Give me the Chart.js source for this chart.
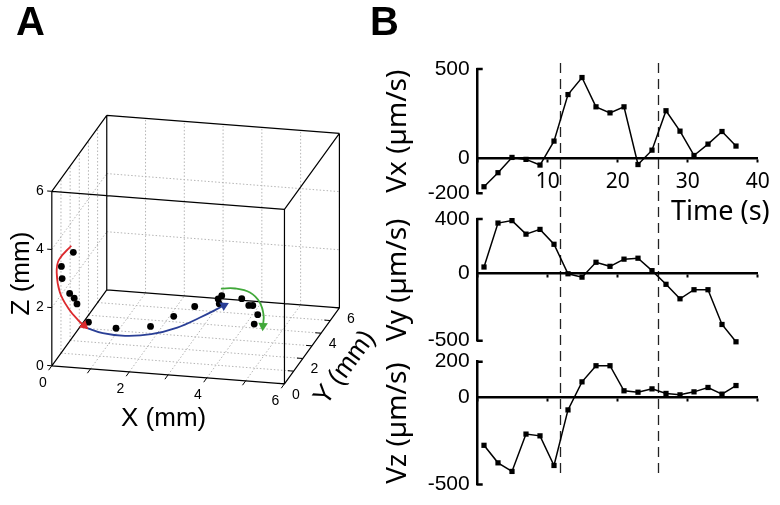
<!DOCTYPE html>
<html>
<head>
<meta charset="utf-8">
<script src="https://cdn.jsdelivr.net/npm/chart.js@4.4.1/dist/chart.umd.min.js"></script>
<style>
  html, body { margin: 0; padding: 0; background: #fff; }
  #fig { position: relative; width: 780px; height: 505px; overflow: hidden; }
  #fig canvas { position: absolute; top: 0; }
  .panel { position: absolute; top: 1px; font: bold 40px "Liberation Sans", Arial, sans-serif; line-height: 40px; color: #000; }
</style>
</head>
<body>
<div id="fig">
  <canvas id="chart3d" width="380" height="505" style="left:0"></canvas>
  <canvas id="chartVx" width="400" height="505" style="left:380px"></canvas>
  <canvas id="chartVy" width="400" height="505" style="left:380px"></canvas>
  <canvas id="chartVz" width="400" height="505" style="left:380px"></canvas>
  <div class="panel" style="left:16px">A</div>
  <div class="panel" style="left:370px">B</div>
</div>
<script>
// === DATA PANEL A (mm) ===
// trajectory points
const trajX = [0.2, 0.2, 0.2, 0.2, 0.2, 0.2, 0.38, 1.11, 1.92, 2.36, 2.75, 3.19, 3.27, 3.25, 3.76, 4.0, 4.1, 4.33, 4.36];
const trajY = [1.5, 0.2, 0.28, 1.1, 1.6, 1.9, 2.39, 2.31, 2.65, 3.32, 3.96, 4.66, 4.71, 4.52, 4.82, 4.57, 4.59, 4.15, 3.64];
const trajZ = [3.27, 3.35, 2.9, 2.03, 1.65, 1.32, 0.5, 0.4, 0.4, 0.5, 0.6, 0.6, 0.7, 0.5, 0.6, 0.5, 0.5, 0.4, 0.3];

// curved arrows over the trajectory
const redArrowX = [0.1, 0.1, 0.1, 0.1, 0.1, 0.1, 0.1];
const redArrowY = [1.70, 0.35, 0.11, 0.46, 1.41, 2.47, 3.11];
const redArrowZ = [3.40, 3.50, 3.16, 2.33, 1.36, 0.50, 0.04];
const blueArrowX = [0.21, 0.72, 1.31, 1.92, 2.44, 2.81, 3.19];
const blueArrowY = [2.84, 2.52, 2.45, 2.72, 3.37, 4.23, 5.29];
const blueArrowZ = [0.1, 0.1, 0.1, 0.1, 0.1, 0.1, 0.1];
const greenArrowX = [3.18, 3.55, 3.93, 4.18, 4.40, 4.50];
const greenArrowY = [5.0, 5.0, 5.0, 5.0, 4.5, 4.0];
const greenArrowZ = [0.81, 0.85, 0.75, 0.44, 0.23, 0.10];

const boxTicks = [0, 1, 2, 3, 4, 5, 6];
const boxLabels = [0, 2, 4, 6];
const floorGrid = [1, 2, 3, 4, 5];
const wallGridZ = [2, 4];

// === DATA PANEL B ===
const time = [0.9, 2.9, 4.9, 6.9, 8.9, 10.9, 12.9, 14.9, 16.9, 18.9, 20.9, 22.9, 24.9, 26.9, 28.9, 30.9, 32.9, 34.9, 36.9];
const vx = [-163, -84, 2, -9, -41, 94, 356, 452, 287, 253, 287, -38, 43, 265, 150, 13, 77, 148, 66];
const vy = [45, 370, 388, 288, 323, 213, -5, -30, 80, 50, 103, 110, 18, -83, -190, -123, -123, -380, -508];
const vz = [-277, -377, -426, -213, -223, -392, -75, 85, 177, 177, 34, 26, 45, 19, 11, 28, 53, 15, 64];
const timeTicks = [0, 10, 20, 30, 40];
const vxTicks = [-200, 0, 500];
const vyTicks = [-500, 0, 400];
const vzTicks = [-500, 0, 200];
const phaseBounds = [11.8, 25.7];

// === 3D VIEW ===
const view = { ox: 47.7, oy: 368.3, ex: [39.93, 3.07], ey: [9.43, -12.93], ez: [0, -29.72] };
function project(x, y, z) {
  return {
    x: view.ox + x * view.ex[0] + y * view.ey[0] + z * view.ez[0],
    y: view.oy + x * view.ex[1] + y * view.ey[1] + z * view.ez[1]
  };
}
function segments(list) {
  const out = [];
  list.forEach(([a, b]) => {
    out.push(project(...a), project(...b), { x: null, y: null });
  });
  return out;
}
function path(xs, ys, zs) {
  return xs.map((x, i) => project(x, ys[i], zs[i]));
}

const lo = boxTicks[0];
const hi = boxTicks[boxTicks.length - 1];

const boxEdges = [
  [[lo, lo, lo], [hi, lo, lo]], [[lo, hi, lo], [hi, hi, lo]], [[lo, lo, hi], [hi, lo, hi]], [[lo, hi, hi], [hi, hi, hi]],
  [[lo, lo, lo], [lo, hi, lo]], [[hi, lo, lo], [hi, hi, lo]], [[lo, lo, hi], [lo, hi, hi]], [[hi, lo, hi], [hi, hi, hi]],
  [[lo, lo, lo], [lo, lo, hi]], [[hi, lo, lo], [hi, lo, hi]], [[lo, hi, lo], [lo, hi, hi]], [[hi, hi, lo], [hi, hi, hi]]
];

const gridLines = [];
floorGrid.forEach(v => {
  gridLines.push([[lo, v, lo], [hi, v, lo]]);
  gridLines.push([[v, lo, lo], [v, hi, lo]]);
  gridLines.push([[v, hi, lo], [v, hi, hi]]);
  gridLines.push([[lo, v, lo], [lo, v, hi]]);
});
wallGridZ.forEach(z => {
  gridLines.push([[lo, hi, z], [hi, hi, z]]);
  gridLines.push([[lo, lo, z], [lo, hi, z]]);
});

const tickMarks = [];
boxTicks.forEach(v => {
  tickMarks.push([[v, lo, lo], [v, lo - 0.35, lo]]);
  tickMarks.push([[hi, v, lo], [hi - 0.15, v, lo]]);
});
boxLabels.forEach(v => tickMarks.push([[lo, lo, v], [lo - 0.12, lo, v]]));

function arrowDataset(points, color) {
  return {
    data: points,
    order: 0,
    showLine: true,
    borderColor: color,
    backgroundColor: color,
    borderWidth: 1.8,
    tension: 0.4,
    pointStyle: 'triangle',
    pointRadius: points.map((p, i) => (i === points.length - 1 ? 5.5 : 0)),
    pointBorderWidth: 0,
    pointRotation: (c) => {
      const i = c.dataIndex;
      if (i === 0) return 0;
      const a = points[i - 1];
      const b = points[i];
      return Math.atan2(b.y - a.y, b.x - a.x) * 180 / Math.PI + 90;
    }
  };
}

const label3d = {
  id: 'label3d',
  afterDatasetsDraw(chart) {
    const { ctx, scales } = chart;
    const put = (text, p, dx, dy, rot) => {
      ctx.save();
      ctx.translate(scales.x.getPixelForValue(p.x) + dx, scales.y.getPixelForValue(p.y) + dy);
      ctx.rotate((rot || 0) * Math.PI / 180);
      ctx.fillText(text, 0, 0);
      ctx.restore();
    };
    ctx.save();
    ctx.fillStyle = '#000';
    ctx.textAlign = 'center';
    ctx.textBaseline = 'middle';
    ctx.font = '14px "Liberation Sans", Arial, sans-serif';
    boxLabels.forEach(v => {
      put(String(v), project(v, lo, lo), -9, 17);
      put(String(v), project(hi, v, lo), 11.5, 11);
      put(String(v), project(lo, lo, v), -12, 0);
    });
    ctx.font = '26px "Liberation Sans", Arial, sans-serif';
    const yAngle = Math.atan2(view.ey[1], view.ey[0]) * 180 / Math.PI;
    put('X (mm)', project((lo + hi) / 2, lo, lo), -4.5, 44);
    put('Y (mm)', project(hi, (lo + hi) / 2, lo), 33, 22, yAngle);
    put('Z (mm)', project(lo, lo, (lo + hi) / 2), -29.5, -5, -90);
    ctx.restore();
  }
};

// === SETUP CHART 3D ===
// higher order = drawn further below
new Chart(document.getElementById('chart3d'), {
  type: 'scatter',
  data: {
    datasets: [
      { data: segments(gridLines), order: 6, showLine: true, borderColor: '#b4b4b4', borderWidth: 1, borderDash: [1.5, 2], pointRadius: 0, spanGaps: false },
      { data: segments(boxEdges), order: 5, showLine: true, borderColor: '#000', borderWidth: 1.2, pointRadius: 0, spanGaps: false },
      { data: segments(tickMarks), order: 4, showLine: true, borderColor: '#000', borderWidth: 1, pointRadius: 0, spanGaps: false },
      { data: path(trajX, trajY, trajZ), order: 3, pointRadius: 3.4, pointBackgroundColor: '#000', pointBorderWidth: 0 },
      arrowDataset(path(redArrowX, redArrowY, redArrowZ), '#dc2a2e'),
      arrowDataset(path(blueArrowX, blueArrowY, blueArrowZ), '#2a3f96'),
      arrowDataset(path(greenArrowX, greenArrowY, greenArrowZ), '#41a83a')
    ]
  },
  options: {
    responsive: false,
    animation: false,
    clip: false,
    layout: { padding: 0 },
    plugins: { legend: { display: false }, tooltip: { enabled: false } },
    scales: {
      x: { type: 'linear', min: 0, max: 380, display: false },
      y: { type: 'linear', min: 0, max: 505, reverse: true, display: false }
    }
  },
  plugins: [label3d]
});

// === SETUP CHART VELOCITY ===
const sansFont = '"Noto Sans", "Open Sans", sans-serif';
const narrowFont = '"Liberation Sans Narrow", "Liberation Sans", sans-serif';

const bracketEnds = {
  id: 'bracketEnds',
  afterDraw(chart) {
    const { ctx, chartArea } = chart;
    ctx.save();
    ctx.strokeStyle = '#000';
    ctx.lineWidth = 2.5;
    ctx.beginPath();
    ctx.moveTo(chartArea.left - 1.2, chartArea.top);
    ctx.lineTo(chartArea.left + 5, chartArea.top);
    ctx.moveTo(chartArea.left - 1.2, chartArea.bottom);
    ctx.lineTo(chartArea.left + 5, chartArea.bottom);
    ctx.stroke();
    ctx.restore();
  }
};

const phaseLines = {
  id: 'phaseLines',
  beforeDatasetsDraw(chart) {
    const { ctx, scales } = chart;
    ctx.save();
    ctx.strokeStyle = '#222';
    ctx.lineWidth = 1.3;
    ctx.setLineDash([10, 6]);
    phaseBounds.forEach(t => {
      const x = Math.round(scales.x.getPixelForValue(t)) + 0.5;
      ctx.beginPath();
      ctx.moveTo(x, chart.chartArea.top - 6);
      ctx.lineTo(x, 477);
      ctx.stroke();
    });
    ctx.restore();
  }
};

const timeTitle = {
  id: 'timeTitle',
  afterDraw(chart) {
    const { ctx, scales, chartArea } = chart;
    ctx.save();
    ctx.fillStyle = '#000';
    ctx.font = '27px ' + sansFont;
    ctx.textAlign = 'right';
    ctx.textBaseline = 'middle';
    ctx.fillText('Time (s)', scales.x.getPixelForValue(timeTicks[timeTicks.length - 1]) + 12, chartArea.bottom + 19);
    ctx.restore();
  }
};

function velocityChart(id, values, ticks, title, top, bottom, showTime, extra) {
  return new Chart(document.getElementById(id), {
    type: 'line',
    data: {
      datasets: [{
        data: time.map((t, i) => ({ x: t, y: values[i] })),
        borderColor: '#000',
        borderWidth: 1.5,
        pointStyle: 'rect',
        pointRadius: 3.7,
        pointBackgroundColor: '#000',
        pointBorderWidth: 0,
        tension: 0,
        clip: false
      }]
    },
    options: {
      responsive: false,
      animation: false,
      layout: { padding: { top: top, bottom: 505 - bottom, left: 0, right: 22.3 } },
      plugins: { legend: { display: false }, tooltip: { enabled: false } },
      scales: {
        x: {
          type: 'linear',
          min: timeTicks[0],
          max: timeTicks[timeTicks.length - 1],
          position: { y: 0 },
          afterBuildTicks: s => { s.ticks = timeTicks.map(v => ({ value: v })); },
          grid: { drawOnChartArea: false, tickLength: 3, tickWidth: 2, tickColor: '#000' },
          border: { color: '#000', width: 2.5 },
          ticks: {
            display: showTime,
            autoSkip: false,
            maxRotation: 0,
            color: '#000',
            padding: 9,
            font: { family: sansFont, size: 21 },
            callback: v => (v === 0 ? '' : v)
          }
        },
        y: {
          type: 'linear',
          min: ticks[0],
          max: ticks[ticks.length - 1],
          afterBuildTicks: s => { s.ticks = ticks.map(v => ({ value: v })); },
          afterFit: s => { s.width = 97.7; },
          grid: { display: false, drawTicks: false },
          border: { color: '#000', width: 2.5 },
          ticks: { color: '#000', padding: 8, font: { family: narrowFont, size: 21 } },
          title: { display: true, text: title, color: '#000', padding: { top: 1, bottom: 0 }, font: { family: sansFont, size: 28 } }
        }
      }
    },
    plugins: [bracketEnds].concat(extra)
  });
}

velocityChart('chartVx', vx, vxTicks, 'Vx (µm/s)', 69, 193.3, true, [phaseLines, timeTitle]);
velocityChart('chartVy', vy, vyTicks, 'Vy (µm/s)', 219, 340.7, false, []);
velocityChart('chartVz', vz, vzTicks, 'Vz (µm/s)', 361.7, 485, false, []);
</script>
</body>
</html>
